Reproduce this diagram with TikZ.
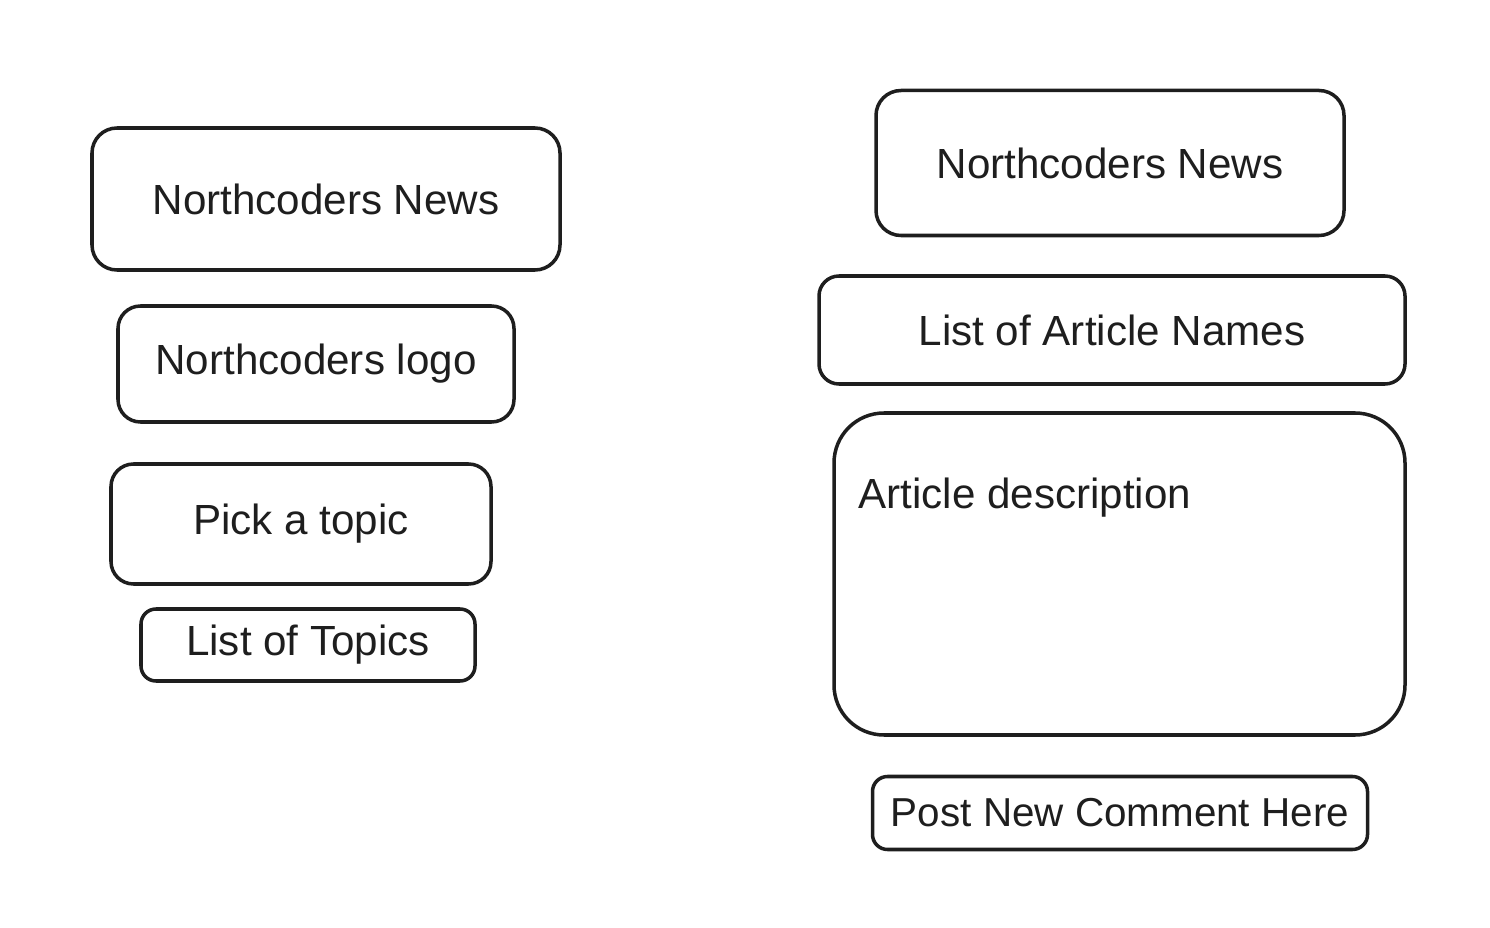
\documentclass[tikz,border=0pt]{standalone}
\usepackage{fontspec}
\setmainfont{Liberation Sans}
\usetikzlibrary{positioning}
\definecolor{sketch}{HTML}{1E1E1E}

\begin{document}
\begin{tikzpicture}[x=0.02cm, y=-0.02cm,
        panel/.style={draw=sketch, line width=2pt, text=sketch, inner sep=0pt,
          align=center, font=\fontsize{24}{28}\selectfont},
        caption/.style={text=sketch, inner sep=0pt, font=\fontsize{24}{28}\selectfont},
      ]
      \useasboundingbox (0,0) rectangle (1490,928);

      % left page: home view
      \foreach \name/\x/\y/\w/\h/\r/\txt in {
        home_title/326/199/468/142/0.5/Northcoders News,
        home_logo/316/364/396/116/0.45/Northcoders logo,
        home_pick/301/524/380/120/0.45/Pick a topic,
        home_topics/308/645/334/72/0.3/List of Topics}
        \node[panel, rounded corners=\r cm, minimum width=\w*0.02cm,
          minimum height=\h*0.02cm] (\name) at (\x,\y) {\txt};

      % right page: article view
      \foreach \name/\x/\y/\w/\h/\r/\txt in {
        art_title/1110/163/468/145/0.5/Northcoders News,
        art_names/1112/330/586/108/0.4/List of Article Names}
        \node[panel, rounded corners=\r cm, minimum width=\w*0.02cm,
          minimum height=\h*0.02cm] (\name) at (\x,\y) {\txt};

      \node[panel, rounded corners=1cm, minimum width=571*0.02cm,
        minimum height=322*0.02cm] (art_desc) at (1119.5,574) {};
      \node[caption, anchor=west] (art_desc_text) at (858,498) {Article description};

      \node[panel, rounded corners=0.3cm, minimum width=495*0.02cm,
        minimum height=73*0.02cm, font=\fontsize{23}{27}\selectfont]
        (art_post) at (1120,813) {Post New Comment Here};
    \end{tikzpicture}
\end{document}
